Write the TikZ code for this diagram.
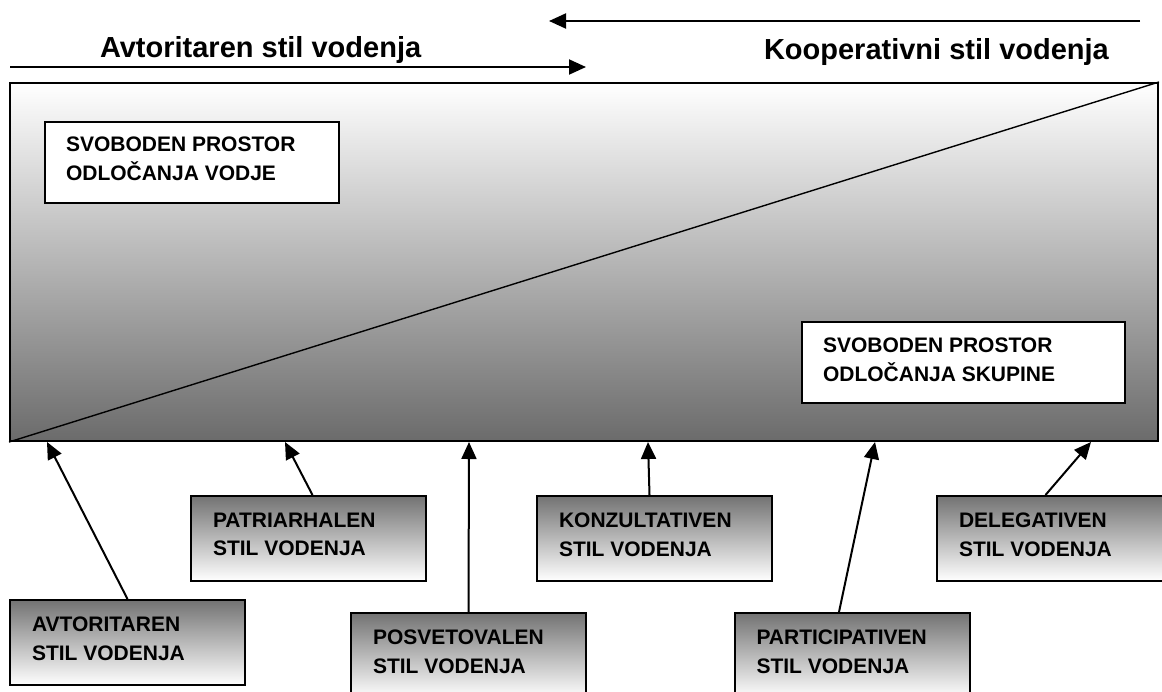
\documentclass[tikz,border=0pt]{standalone}
\usepackage{fontspec}
\setmainfont{Liberation Sans}
\usepackage{xcolor}
\usepackage{tikz}
\usetikzlibrary{arrows, arrows.meta}
\definecolor{boxtop}{gray}{0.45}
\definecolor{mainbottom}{gray}{0.42}

\begin{document}
\begin{tikzpicture}[x=1pt, y=-1pt, line width=2pt,
		pfeil/.style={-{Triangle[length=17pt, width=15pt]}},
		titel/.style={anchor=base west, inner sep=0pt, font=\fontsize{29}{35}\selectfont\bfseries},
		stilbox/.style={draw, rectangle, minimum width=235pt, minimum height=85pt, inner sep=0pt, top color=boxtop, bottom color=white},
		prostor/.style={draw, rectangle, fill=white, minimum height=81pt, inner sep=0pt},
		napis/.style={anchor=north west, inner sep=0pt, align=left, font=\fontsize{21}{28.5}\selectfont\bfseries}]
			\clip (0,0) rectangle (1162,691);
			\node[draw, minimum width=1148pt, minimum height=358pt, inner sep=0pt, top color=white, bottom color=mainbottom] (main) at (584,262) {};
			\draw[line width=1.4pt] (main.south west) -- (main.north east);
			\node[prostor, minimum width=294pt] (vodja) at (192,162.5) {};
			\node[prostor, minimum width=323pt] (skupina) at (963.5,362.5) {};
			\node[napis] (vodja-t) at ([xshift=21pt, yshift=-15pt]vodja.north west) {SVOBODEN PROSTOR\\ODLOČANJA VODJE};
			\node[napis] (skupina-t) at ([xshift=21pt, yshift=-16pt]skupina.north west) {SVOBODEN PROSTOR\\ODLOČANJA SKUPINE};
			% titles and top arrows
			\node[titel] (avtoritaren) at (99,57) {Avtoritaren stil vodenja};
			\node[titel] (kooperativni) at (763,59) {Kooperativni stil vodenja};
			\coordinate (levo-s) at (10,67);
			\coordinate (levo-e) at (586,67);
			\coordinate (desno-s) at (1140,21);
			\coordinate (desno-e) at (549,21);
			\draw[pfeil] (levo-s) -- (levo-e);
			\draw[pfeil] (desno-s) -- (desno-e);
			% style boxes
			\foreach \name/\x/\y/\word in {avt/127.5/642.5/AVTORITAREN, pat/308.5/538.5/PATRIARHALEN, pos/468.5/655.5/POSVETOVALEN, kon/654.5/538.5/KONZULTATIVEN, par/852/655.5/PARTICIPATIVEN, del/1054.5/538.5/DELEGATIVEN}
			{
				\node[stilbox] (\name) at (\x,\y) {};
				\node[napis] (\name-t) at ([xshift=22pt, yshift=-17pt]\name.north west) {\word\\STIL VODENJA};
			}
			\foreach \name/\dx/\tx in {avt/0/38, pat/4/276, pos/0/460, kon/-5/639, par/-13/866, del/-9/1082}
			{
				\draw[pfeil] ([xshift=\dx pt]\name.north) -- ([xshift=\tx pt]main.south west);
			}
		\end{tikzpicture}
\end{document}
